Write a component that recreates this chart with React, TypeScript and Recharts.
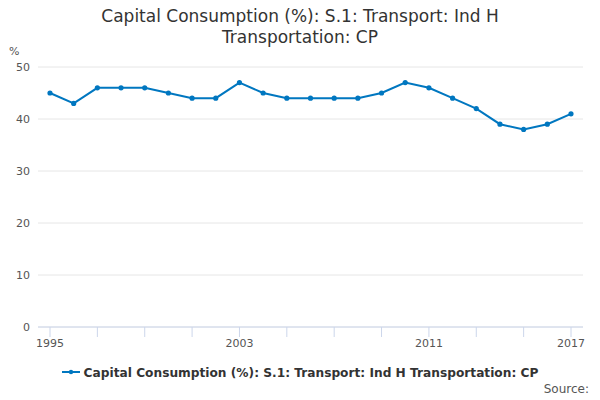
import { LineChart, Line, XAxis, YAxis, CartesianGrid } from "recharts";

const years = [1995, 1996, 1997, 1998, 1999, 2000, 2001, 2002, 2003, 2004, 2005, 2006, 2007, 2008, 2009, 2010, 2011, 2012, 2013, 2014, 2015, 2016, 2017];
const values = [45, 43, 46, 46, 46, 45, 44, 44, 47, 45, 44, 44, 44, 44, 45, 47, 46, 44, 42, 39, 38, 39, 41];
const xTicks = [1995, 1997, 1999, 2001, 2003, 2005, 2007, 2009, 2011, 2013, 2015, 2017];
const xLabels = [1995, 2003, 2011, 2017];
const yTicks = [0, 10, 20, 30, 40, 50];

const data = years.map((year, i) => ({ year, value: values[i] }));
const font = "'DejaVu Sans', sans-serif";

export default function App() {
  return (
    <div style={{ position: "absolute", top: 0, left: 0, width: 600, height: 400, fontFamily: font }}>
      <div style={{ position: "absolute", top: 6, left: 0, width: 600, textAlign: "center", fontSize: 17, lineHeight: "21px", color: "#333" }}>
        Capital Consumption (%): S.1: Transport: Ind H<br />Transportation: CP
      </div>
      <div style={{ position: "absolute", top: 45, left: 9, fontSize: 11, color: "#555" }}>%</div>
      <LineChart width={600} height={400} data={data} margin={{ top: 67, right: 17, left: 0, bottom: 43 }}>
        <CartesianGrid vertical={false} stroke="#e6e6e6" />
        <XAxis
          dataKey="year"
          type="number"
          domain={[1995, 2017]}
          ticks={xTicks}
          padding={{ left: 12, right: 12 }}
          tickFormatter={(v) => (xLabels.includes(v) ? String(v) : "")}
          stroke="#ccd6eb"
          tickSize={10}
          tick={{ fill: "#555", fontSize: 11, fontFamily: font }}
          height={30}
        />
        <YAxis
          domain={[0, 50]}
          ticks={yTicks}
          axisLine={false}
          tickLine={false}
          width={38}
          tick={{ fill: "#555", fontSize: 11, fontFamily: font }}
        />
        <Line
          dataKey="value"
          stroke="#0077c0"
          strokeWidth={2}
          dot={{ r: 1.6, fill: "#0077c0", stroke: "#0077c0" }}
          isAnimationActive={false}
        />
      </LineChart>
      <div style={{ position: "absolute", top: 366, left: 0, width: 600, textAlign: "center", fontSize: 12.2, fontWeight: "bold", color: "#333" }}>
        <svg width={18} height={10} style={{ marginRight: 4 }}>
          <line x1={0} y1={5} x2={18} y2={5} stroke="#0077c0" strokeWidth={2} />
          <circle cx={9} cy={5} r={2.2} fill="#0077c0" />
        </svg>
        Capital Consumption (%): S.1: Transport: Ind H Transportation: CP
      </div>
      <div style={{ position: "absolute", top: 382, right: 11, fontSize: 12, color: "#555" }}>Source:</div>
    </div>
  );
}
